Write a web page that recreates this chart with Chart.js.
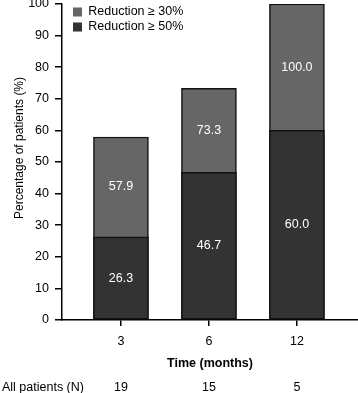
<!DOCTYPE html>
<html><head><meta charset="utf-8">
<script src="https://cdn.jsdelivr.net/npm/chart.js@4"></script>
<style>html,body{margin:0;padding:0;background:#fff}#wrap{width:358px;height:393px;position:relative}</style>
</head><body><div id="wrap"><canvas id="c" width="358" height="393"></canvas></div>
<script>
const timeLabels = ['3', '6', '12'];
const patientCounts = ['19', '15', '5'];
const seriesNames = ['Reduction \u2265 30%', 'Reduction \u2265 50%'];
const reduction30 = [57.9, 73.3, 100.0];
const reduction50 = [26.3, 46.7, 60.0];
const yTickValues = [0, 10, 20, 30, 40, 50, 60, 70, 80, 90, 100];

const FONT = '"Liberation Sans", Arial, Helvetica, sans-serif';
Chart.defaults.font.family = FONT;
Chart.defaults.font.size = 12.5;
Chart.defaults.color = '#000';

const X2_PAD = 9;

const valueLabels = {
  id: 'valueLabels',
  afterDatasetsDraw(chart) {
    const ctx = chart.ctx;
    const m30 = chart.getDatasetMeta(0), m50 = chart.getDatasetMeta(1);
    ctx.save();
    ctx.fillStyle = '#fff';
    ctx.font = '12.5px ' + FONT;
    ctx.textAlign = 'center';
    ctx.textBaseline = 'middle';
    m30.data.forEach((bar, i) => {
      const b50 = m50.data[i];
      ctx.fillText(reduction30[i].toFixed(1), bar.x, (bar.y + b50.y) / 2);
      ctx.fillText(reduction50[i].toFixed(1), b50.x, (b50.y + b50.base) / 2);
    });
    ctx.restore();
  }
};

const footLabel = {
  id: 'footLabel',
  afterDraw(chart) {
    const s = chart.scales.x2;
    const ctx = chart.ctx;
    ctx.save();
    ctx.fillStyle = '#000';
    ctx.font = '12.5px ' + FONT;
    ctx.textAlign = 'left';
    ctx.textBaseline = 'middle';
    ctx.fillText('All patients (N)', 2, s.top + X2_PAD + 7.5);
    ctx.restore();
  }
};

const layoutTweaks = {
  id: 'layoutTweaks',
  afterLayout(chart) {
    const lg = chart.legend, a = chart.chartArea;
    lg.left = a.left + 8.5;
    lg.top = a.top - 0.75;
    const ys = chart.scales.y;
    if (!ys._titleShifted) {
      const orig = ys.drawTitle.bind(ys);
      ys.drawTitle = function () {
        const b = this.bottom;
        this.bottom = b - 28;
        orig();
        this.bottom = b;
      };
      ys._titleShifted = true;
    }
  }
};

const xRange = { min: -0.67, max: 2.694 };

new Chart(document.getElementById('c'), {
  type: 'bar',
  data: {
    datasets: [
      {
        label: seriesNames[0],
        data: reduction30.map((v, i) => ({ x: i, y: v })),
        backgroundColor: '#666666',
        borderColor: '#111111',
        borderWidth: 1.5,
        borderSkipped: false,
        grouped: false,
        barThickness: 55,
        order: 1
      },
      {
        label: seriesNames[1],
        data: reduction50.map((v, i) => ({ x: i, y: v })),
        backgroundColor: '#333333',
        borderColor: '#111111',
        borderWidth: 1.5,
        borderSkipped: false,
        grouped: false,
        barThickness: 55,
        order: 0
      }
    ]
  },
  options: {
    responsive: false,
    animation: false,
    devicePixelRatio: 1,
    layout: { padding: { left: 0, right: 0, top: 4, bottom: 0 } },
    plugins: {
      tooltip: { enabled: false },
      legend: {
        position: 'chartArea',
        align: 'start',
        labels: {
          sort: (a, b) => a.datasetIndex - b.datasetIndex,
          boxWidth: 9,
          boxHeight: 9,
          padding: 2.5,
          font: { size: 12.5 },
          color: '#000',
          generateLabels: (chart) => Chart.defaults.plugins.legend.labels.generateLabels(chart)
            .map(l => Object.assign(l, { lineWidth: 0, strokeStyle: 'rgba(0,0,0,0)' }))
        }
      }
    },
    scales: {
      x: {
        type: 'linear',
        position: 'bottom',
        weight: 0,
        offset: false,
        min: xRange.min,
        max: xRange.max,
        afterBuildTicks: (s) => { s.ticks = timeLabels.map((_, i) => ({ value: i })); },
        afterFit: (s) => { s.height = 51.5; },
        ticks: { callback: (v) => timeLabels[v], padding: 8, font: { size: 12.5 }, maxRotation: 0, autoSkip: false },
        grid: { display: true, offset: false, drawOnChartArea: false, drawTicks: true, tickLength: 6, color: '#000', lineWidth: 1.5 },
        border: { display: true, color: '#000', width: 1.5 },
        title: { display: true, text: 'Time (months)', font: { size: 12.5, weight: 'bold' }, padding: { top: 0, bottom: 0 } }
      },
      x2: {
        type: 'linear',
        position: 'bottom',
        weight: 1,
        offset: false,
        min: xRange.min,
        max: xRange.max,
        afterBuildTicks: (s) => { s.ticks = patientCounts.map((_, i) => ({ value: i })); },
        afterFit: (s) => { s.height = 21.5; },
        ticks: { callback: (v) => patientCounts[v], padding: X2_PAD, font: { size: 12.5 }, maxRotation: 0, autoSkip: false },
        grid: { display: false, offset: false, drawTicks: false },
        border: { display: false }
      },
      y: {
        min: 0,
        max: 100,
        afterBuildTicks: (s) => { s.ticks = yTickValues.map(v => ({ value: v })); },
        afterFit: (s) => { s.width = 62; s.paddingTop = 0; s.paddingBottom = 0; },
        ticks: { padding: 6, font: { size: 12.5 } },
        grid: { display: true, drawOnChartArea: false, drawTicks: true, tickLength: 7, color: '#000', lineWidth: 1.5 },
        border: { display: true, color: '#000', width: 1.5 },
        title: { display: true, text: 'Percentage of patients (%)', font: { size: 12 }, padding: { top: 12, bottom: 4 } }
      }
    }
  },
  plugins: [valueLabels, footLabel, layoutTweaks]
});
</script>
</body></html>
